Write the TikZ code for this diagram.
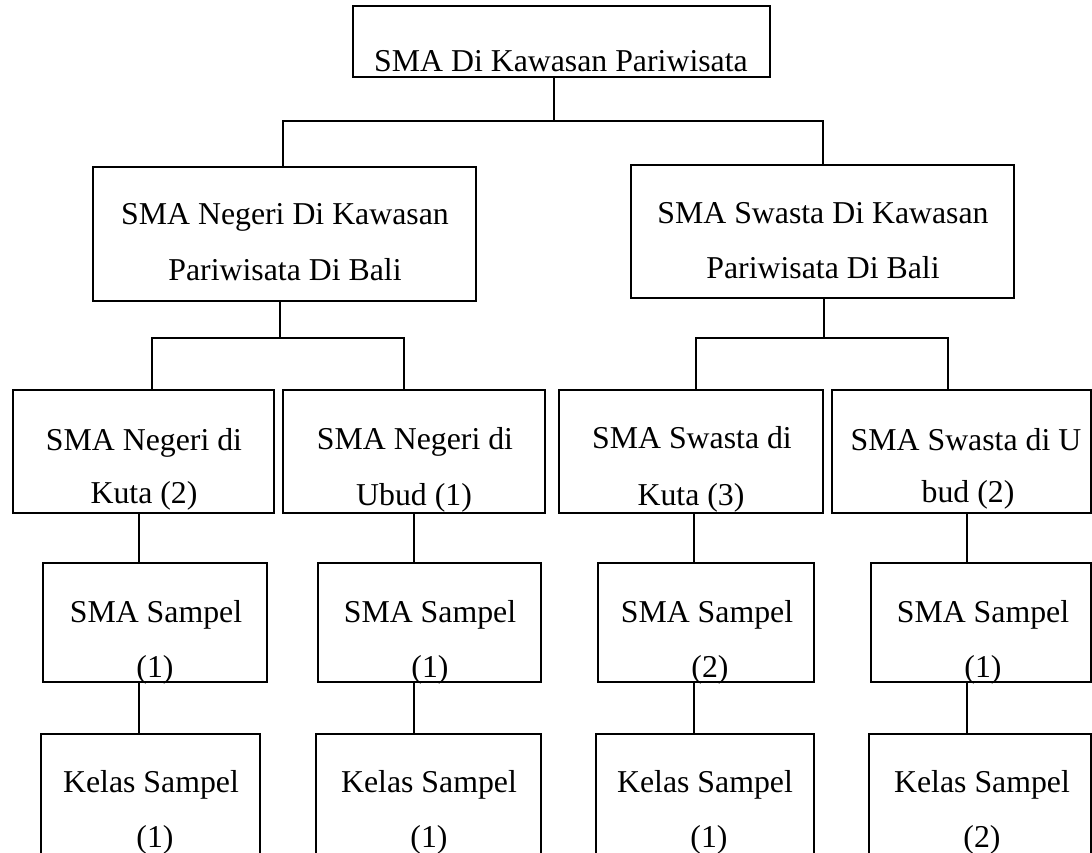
\documentclass[tikz,border=0pt]{standalone}
\usepackage{fontspec}
\setmainfont{Liberation Serif}
\begin{document}
\begin{tikzpicture}[x=1pt,y=-1pt,
  box/.style={draw=black, line width=1.1pt, inner sep=0pt, outer sep=0pt, anchor=north west},
  txt/.style={anchor=base, inner sep=0pt, font=\fontsize{31.8}{38}\selectfont},
  link/.style={draw=black, line width=1.1pt}]
\useasboundingbox (0,0) rectangle (1092,853);
% boxes (x1,y1) with width/height
\newcommand{\bx}[5]{\node[box, minimum width=#4pt, minimum height=#5pt] (#1) at (#2,#3) {};}
\bx{top}{353}{6}{417}{71}
\bx{na}{93}{167}{383}{134}
\bx{sa}{631}{165}{383}{133}
\bx{ka}{13}{390}{261}{123}
\bx{ub}{283}{390}{262}{123}
\bx{kb}{559}{390}{264}{123}
\bx{uc}{832}{390}{259}{123}
\bx{sa1}{43}{563}{224}{119}
\bx{sa2}{318}{563}{223}{119}
\bx{sa3}{598}{563}{216}{119}
\bx{sa4}{871}{563}{220}{119}
\bx{ks1}{41}{734}{219}{122}
\bx{ks2}{316}{734}{225}{122}
\bx{ks3}{596}{734}{218}{122}
\bx{ks4}{869}{734}{222}{122}
% texts
\node[txt] (ttop) at (561,72) {SMA Di Kawasan Pariwisata};
\node[txt] (tna1) at (285,225) {SMA Negeri Di Kawasan};
\node[txt] (tna2) at (285,280) {Pariwisata Di Bali};
\node[txt] (tsa1) at (823,223) {SMA Swasta Di Kawasan};
\node[txt] (tsa2) at (823,278) {Pariwisata Di Bali};
\node[txt] (tka1) at (144,450) {SMA Negeri di};
\node[txt] (tka2) at (144,503) {Kuta (2)};
\node[txt] (tub1) at (415,449) {SMA Negeri di};
\node[txt] (tub2) at (414,505) {Ubud (1)};
\node[txt] (tkb1) at (692,448) {SMA Swasta di};
\node[txt] (tkb2) at (691,505) {Kuta (3)};
\node[txt] (tuc1) at (966,450) {SMA Swasta di U};
\node[txt] (tuc2) at (968,502) {bud (2)};
\node[txt] (ts11) at (156,622) {SMA Sampel};
\node[txt] (ts12) at (155,677) {(1)};
\node[txt] (ts21) at (430,622) {SMA Sampel};
\node[txt] (ts22) at (430,677) {(1)};
\node[txt] (ts31) at (707,622) {SMA Sampel};
\node[txt] (ts32) at (710,677) {(2)};
\node[txt] (ts41) at (983,622) {SMA Sampel};
\node[txt] (ts42) at (983,677) {(1)};
\node[txt] (tk11) at (151,792) {Kelas Sampel};
\node[txt] (tk12) at (155,847) {(1)};
\node[txt] (tk21) at (429,792) {Kelas Sampel};
\node[txt] (tk22) at (429,847) {(1)};
\node[txt] (tk31) at (705,792) {Kelas Sampel};
\node[txt] (tk32) at (709,847) {(1)};
\node[txt] (tk41) at (982,792) {Kelas Sampel};
\node[txt] (tk42) at (982,847) {(2)};
% junction coordinates
\coordinate (j0) at (554,121);
\coordinate (j0a) at (283,121);
\coordinate (j0b) at (823,121);
\coordinate (j1) at (280,338);
\coordinate (j1a) at (152,338);
\coordinate (j1b) at (404,338);
\coordinate (j2) at (824,338);
\coordinate (j2a) at (696,338);
\coordinate (j2b) at (948,338);
\coordinate (c1) at (139,0);
\coordinate (c2) at (414,0);
\coordinate (c3) at (694,0);
\coordinate (c4) at (967,0);
% connectors
\draw[link] (j0 |- top.south) -- (j0);
\draw[link] (j0a |- na.north) -- (j0a) -- (j0b) -- (j0b |- sa.north);
\draw[link] (j1 |- na.south) -- (j1);
\draw[link] (j1a |- ka.north) -- (j1a) -- (j1b) -- (j1b |- ub.north);
\draw[link] (j2 |- sa.south) -- (j2);
\draw[link] (j2a |- kb.north) -- (j2a) -- (j2b) -- (j2b |- uc.north);
\draw[link] (c1 |- ka.south) -- (c1 |- sa1.north);
\draw[link] (c2 |- ub.south) -- (c2 |- sa2.north);
\draw[link] (c3 |- kb.south) -- (c3 |- sa3.north);
\draw[link] (c4 |- uc.south) -- (c4 |- sa4.north);
\draw[link] (c1 |- sa1.south) -- (c1 |- ks1.north);
\draw[link] (c2 |- sa2.south) -- (c2 |- ks2.north);
\draw[link] (c3 |- sa3.south) -- (c3 |- ks3.north);
\draw[link] (c4 |- sa4.south) -- (c4 |- ks4.north);
\end{tikzpicture}
\end{document}
